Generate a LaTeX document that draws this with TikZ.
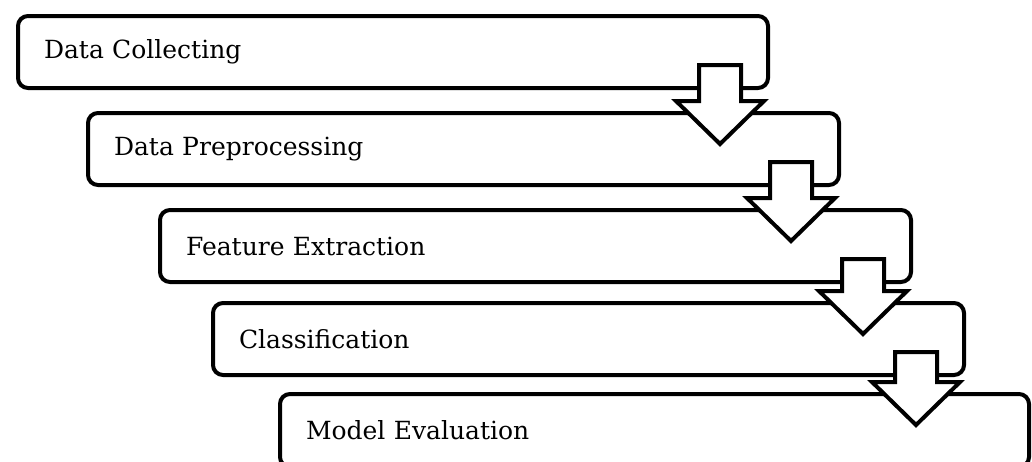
\documentclass[tikz,border=0pt]{standalone}
\usepackage{fontspec}
\setmainfont{DejaVu Serif}
\usetikzlibrary{calc}
\tikzset{
  stage/.style={draw=black, line width=4pt, rounded corners=10pt, fill=white,
    anchor=north west, inner xsep=26pt, inner ysep=0pt, minimum height=72pt,
    align=left, font=\fontsize{25}{28}\selectfont},
  barrow/.style={draw=black, line width=4pt, fill=white, line join=miter}
}
\newcommand\blockarr[2]{%
  \draw[barrow] let \p1=(#1), \p2=(#2) in
    (\x1-21pt,\y1) -- (\x1+21pt,\y1) -- (\x1+21pt,\y2+43pt) -- (\x1+44pt,\y2+43pt)
    -- (\x1,\y2) -- (\x1-44pt,\y2+43pt) -- (\x1-21pt,\y2+43pt) -- cycle;}
\begin{document}
\begin{tikzpicture}[x=1pt,y=1pt]
\useasboundingbox (0,0) rectangle (1032,-461);
\begin{scope}
\clip (0,0) rectangle (1032,-461);
\node[stage, text width=698pt] (b1) at (16,-14) {Data Collecting};
\node[stage, text width=699pt] (b2) at (86,-111) {Data Preprocessing};
\node[stage, text width=699pt] (b3) at (158,-208) {Feature Extraction};
\node[stage, text width=699pt] (b4) at (211,-301) {Classification};
\node[stage, text width=697pt, minimum height=73pt] (b5) at (278,-392) {Model Evaluation};
\foreach \a/\b in {b1/b2,b2/b3,b3/b4,b4/b5}{
  \coordinate (s-\a) at ($(\a.south east)+(-50,25)$);
  \coordinate (t-\a) at ($(\b.north east)+(-50,-33)$);
  \blockarr{s-\a}{t-\a}
}
\end{scope}
\end{tikzpicture}
\end{document}
